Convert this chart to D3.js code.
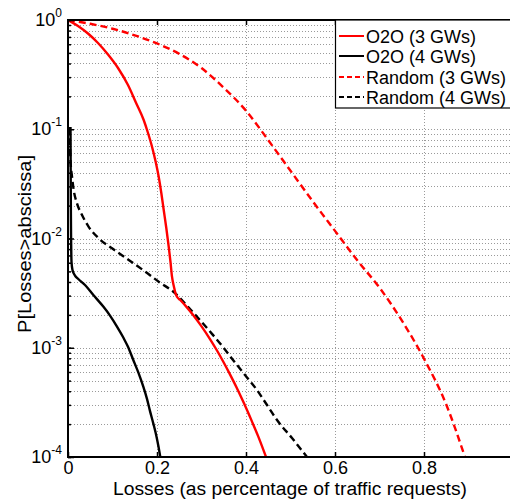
<!DOCTYPE html>
<html><head><meta charset="utf-8">
<script src="https://cdn.jsdelivr.net/npm/d3@7/dist/d3.min.js"></script>
<style>body{margin:0;background:#fff}svg{display:block}text{font-family:"Liberation Sans",Arial,sans-serif}</style>
</head><body>
<svg id="c" width="510" height="502"></svg>
<script>
// ---- data ----
const xTicks = [0, 0.2, 0.4, 0.6, 0.8];
const xTickLabels = ["0", "0.2", "0.4", "0.6", "0.8"];
const yDecades = [0, -1, -2, -3, -4];
const seriesNames = ["O2O (3 GWs)", "O2O (4 GWs)", "Random (3 GWs)", "Random (4 GWs)"];

const o2o3X = [0, 0.0225, 0.0449, 0.0674, 0.0899, 0.1124, 0.1348, 0.1528, 0.1701, 0.1798, 0.1888, 0.1966, 0.2038, 0.2097, 0.2151, 0.2209, 0.2263, 0.2303, 0.2337, 0.2382, 0.2416, 0.2449, 0.2517, 0.2667, 0.2816, 0.2989, 0.3191, 0.3348, 0.349, 0.364, 0.3791, 0.3955, 0.4128, 0.427, 0.445];
const o2o3Y = [1, 0.881, 0.752, 0.616, 0.483, 0.3636, 0.254, 0.175, 0.1216, 0.0924, 0.0692, 0.0512, 0.0368, 0.0261, 0.01823, 0.01247, 0.00841, 0.0061, 0.00447, 0.0036, 0.00314, 0.00293, 0.002748, 0.002355, 0.001986, 0.001596, 0.001202, 0.000944, 0.000745, 0.000571, 0.000431, 0.00031, 0.000214, 0.000156, 0.0001];

const o2o4X = [0.0056, 0.0063, 0.0079, 0.0101, 0.0157, 0.0231, 0.0382, 0.0569, 0.0793, 0.0944, 0.1094, 0.1243, 0.1348, 0.1467, 0.1584, 0.1692, 0.1775, 0.1843, 0.1921, 0.1993, 0.2034, 0.2074];
const o2o4Y = [0.105, 0.0225, 0.0061, 0.00515, 0.00458, 0.00426, 0.00375, 0.00304, 0.00238, 0.00197, 0.00158, 0.00124, 0.00102, 0.000773, 0.000588, 0.00044, 0.00034, 0.000263, 0.0002, 0.000151, 0.000124, 0.0001];

const rnd3X = [0, 0.05, 0.1, 0.15, 0.2, 0.25, 0.3, 0.35, 0.4, 0.45, 0.5, 0.55, 0.6, 0.65, 0.7, 0.75, 0.8, 0.85, 0.892];
const rnd3Y = [1, 0.923, 0.832, 0.724, 0.610, 0.490, 0.363, 0.240, 0.148, 0.0794, 0.0417, 0.0219, 0.01175, 0.00631, 0.00355, 0.00178, 0.000794, 0.000302, 0.0001];

const rnd4X = [0.0034, 0.0045, 0.0056, 0.009, 0.0128, 0.0202, 0.0315, 0.0465, 0.069, 0.0989, 0.1364, 0.1737, 0.2038, 0.2411, 0.2742, 0.2966, 0.3236, 0.3483, 0.3708, 0.3978, 0.4247, 0.4472, 0.4697, 0.5034, 0.5371];
const rnd4Y = [0.105, 0.0718, 0.0523, 0.0368, 0.0278, 0.021, 0.0164, 0.0128, 0.01004, 0.00813, 0.00636, 0.00497, 0.00402, 0.00315, 0.00226, 0.00179, 0.00134, 0.001016, 0.000773, 0.000563, 0.00041, 0.000299, 0.000218, 0.000149, 0.0001];

// ---- layout ----
const svg = d3.select("#c");
const L = 68, T = 20, R = 513, B = 457;
const x = d3.scaleLinear().domain([0, 1]).range([L, R]);
const y = d3.scaleLog().domain([1e-4, 1]).range([B, T]);

// grid
const minorVals = [];
for (let d = -4; d < 0; d++) for (let k = 1; k <= 9; k++) minorVals.push(k * Math.pow(10, d));
minorVals.push(1);
const grid = svg.append("g").attr("stroke", "#9a9a9a").attr("stroke-width", 1).attr("stroke-dasharray", "1,2");
grid.selectAll("line.h").data(minorVals).join("line")
  .attr("x1", L).attr("x2", R).attr("y1", d => Math.round(y(d)) + 0.5).attr("y2", d => Math.round(y(d)) + 0.5);
grid.selectAll("line.v").data(xTicks.slice(1)).join("line")
  .attr("y1", T).attr("y2", B).attr("x1", d => Math.round(x(d)) + 0.5).attr("x2", d => Math.round(x(d)) + 0.5);

// curves
const series = [
  {xs: o2o3X, ys: o2o3Y, color: "#ff0000", dash: null},
  {xs: o2o4X, ys: o2o4Y, color: "#000000", dash: null},
  {xs: rnd3X, ys: rnd3Y, color: "#ff0000", dash: "7,4"},
  {xs: rnd4X, ys: rnd4Y, color: "#000000", dash: "7,4"}
];
const line = d3.line().x(d => x(d[0])).y(d => y(d[1])).curve(d3.curveMonotoneX);
svg.append("clipPath").attr("id", "pc").append("rect").attr("x", L).attr("y", T).attr("width", R - L).attr("height", B - T);
const cg = svg.append("g").attr("clip-path", "url(#pc)");
[3, 2, 1, 0].forEach(i => {
  const s = series[i];
  cg.append("path").datum(s.xs.map((v, j) => [v, s.ys[j]]))
    .attr("d", line).attr("fill", "none").attr("stroke", s.color).attr("stroke-width", 2.4)
    .attr("stroke-dasharray", s.dash);
});

// axes
const xAxis = d3.axisBottom(x).tickValues(xTicks).tickFormat((d, i) => xTickLabels[i]).tickSizeInner(-5).tickSizeOuter(0).tickPadding(4);
const gx = svg.append("g").attr("transform", `translate(0,${B})`).call(xAxis);
gx.selectAll("text").attr("font-size", 18).attr("fill", "#000").attr("font-family", "Liberation Sans, Arial, sans-serif");
gx.select(".domain").remove();
const xTop = d3.axisTop(x).tickValues(xTicks.slice(1)).tickSizeInner(-5).tickSizeOuter(0).tickFormat("");
const gxt = svg.append("g").attr("transform", `translate(0,${T})`).call(xTop);
gxt.select(".domain").remove();

const yAxis = d3.axisLeft(y).tickValues(minorVals).tickSizeInner(-3).tickSizeOuter(0).tickFormat("");
const gy = svg.append("g").attr("transform", `translate(${L},0)`).call(yAxis);
gy.select(".domain").remove();
const yMaj = d3.axisLeft(y).tickValues(yDecades.map(e => Math.pow(10, e))).tickSizeInner(-6).tickSizeOuter(0).tickFormat("");
const gym = svg.append("g").attr("transform", `translate(${L},0)`).call(yMaj);
gym.select(".domain").remove();
svg.selectAll(".tick line").attr("stroke", "#000").attr("stroke-width", 1.5);

// y tick labels with superscript
const yl = svg.append("g").selectAll("text").data(yDecades).join("text")
  .attr("x", 62).attr("y", d => y(Math.pow(10, d)) + 6).attr("text-anchor", "end").attr("font-size", 18);
yl.append("tspan").text("10");
yl.append("tspan").attr("font-size", 12).attr("dy", -9).text(d => String(d));

// frame
svg.append("path").attr("d", `M${R},${T}H${L}V${B}H${R}`).attr("fill", "none").attr("stroke", "#000").attr("stroke-width", 2);

// legend
const lg = svg.append("g");
lg.append("rect").attr("x", 335.5).attr("y", 20).attr("width", 200).attr("height", 88).attr("fill", "#fff").attr("stroke", "#000").attr("stroke-width", 1.2);
const ly = [36, 56, 77, 97];
seriesNames.forEach((n, i) => {
  lg.append("line").attr("x1", 339).attr("x2", 364).attr("y1", ly[i]).attr("y2", ly[i])
    .attr("stroke", series[i].color).attr("stroke-width", 2).attr("stroke-dasharray", series[i].dash ? "5,3" : null);
  lg.append("text").attr("x", 366).attr("y", ly[i] + 6.5).attr("font-size", 18).text(n);
});

// axis titles
svg.append("text").attr("x", 290).attr("y", 495).attr("text-anchor", "middle").attr("font-size", 18)
  .attr("textLength", 354).attr("lengthAdjust", "spacingAndGlyphs")
  .text("Losses (as percentage of traffic requests)");
svg.append("text").attr("transform", "translate(31,244) rotate(-90)").attr("text-anchor", "middle").attr("font-size", 19)
  .attr("textLength", 178).attr("lengthAdjust", "spacingAndGlyphs")
  .text("P[Losses>abscissa]");
</script>
</body></html>
